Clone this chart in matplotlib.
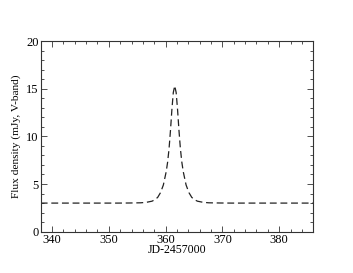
import matplotlib
matplotlib.use("Agg")
import matplotlib.pyplot as plt
from matplotlib.ticker import MultipleLocator

# Data (JD-2457000, flux density in mJy)
jd = [338.0, 346.0, 351.6, 353.6, 355.6, 356.6, 357.6, 358.1, 358.6, 359.1,
      359.6, 360.1, 360.35, 360.6, 360.85, 361.1, 361.35, 361.6,
      361.85, 362.1, 362.35, 362.6, 362.85, 363.1, 363.6, 364.1, 364.6,
      365.1, 365.6, 366.6, 367.6, 369.6, 371.6, 386.0]
flux = [3.0, 3.0, 3.0, 3.01, 3.03, 3.08, 3.2, 3.35, 3.6, 4.1,
        4.9, 6.3, 7.3, 8.7, 10.6, 12.8, 14.6, 15.3,
        14.6, 12.8, 10.6, 8.7, 7.3, 6.3, 4.9, 4.1, 3.6,
        3.35, 3.2, 3.08, 3.03, 3.01, 3.0, 3.0]

xticks = [340, 350, 360, 370, 380]
yticks = [0, 5, 10, 15, 20]

plt.rcParams['font.family'] = ['Liberation Serif', 'DejaVu Serif']

fig = plt.figure(figsize=(3.53, 2.73), dpi=100)
ax = fig.add_axes([0.1153, 0.1513, 0.7722, 0.6985])

ax.plot(jd, flux, color='#222222', lw=0.9, linestyle=(0, (5.5, 3)))

ax.set_xlim(338, 386)
ax.set_ylim(0, 20)
ax.set_xticks(xticks)
ax.set_yticks(yticks)
ax.xaxis.set_minor_locator(MultipleLocator(2))
ax.yaxis.set_minor_locator(MultipleLocator(1))
ax.tick_params(which='both', direction='in', top=True, right=True,
               labelsize=9, pad=1.5, width=0.6, colors='#333333', labelcolor='black')
ax.tick_params(which='major', length=4)
ax.tick_params(which='minor', length=2)
for s in ax.spines.values():
    s.set_linewidth(0.8)
    s.set_color('#333333')

ax.set_xlabel('JD-2457000', fontsize=8.5, labelpad=-1)
ax.set_ylabel('Flux density (mJy, V-band)', fontsize=8.2, labelpad=3.5)

fig.savefig('out.png', dpi=100)
